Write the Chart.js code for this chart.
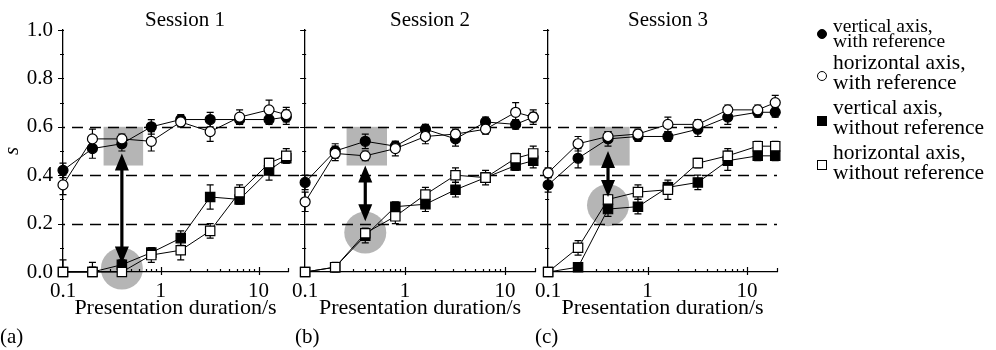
<!DOCTYPE html>
<html>
<head>
<meta charset="utf-8">
<script src="https://cdn.jsdelivr.net/npm/chart.js@4.4.0/dist/chart.umd.min.js"></script>
<style>
  body { margin: 0; width: 996px; height: 350px; background: #fff; position: relative; overflow: hidden;
         font-family: "Liberation Serif", serif; color: #000; }
  canvas { position: absolute; top: 0; }
  .title { position: absolute; width: 200px; text-align: center; font-size: 21px; line-height: 24px; top: 7px; }
  .tag { position: absolute; font-size: 21px; line-height: 25px; top: 324px; }
  .entry { position: absolute; left: 833px; font-size: 21.5px; line-height: 20px; white-space: nowrap; }
  .mk { position: absolute; width: 8px; height: 8px; border: 1.3px solid #000; left: 817px; }
  .round { border-radius: 50%; }
  .fill { background: #000; }
</style>
</head>
<body>
<canvas id="panel1" width="310" height="350" style="left:0px"></canvas>
<canvas id="panel2" width="265" height="350" style="left:285px"></canvas>
<canvas id="panel3" width="262" height="350" style="left:528px"></canvas>

<div class="title" style="left:85px">Session 1</div>
<div class="title" style="left:330px">Session 2</div>
<div class="title" style="left:568px">Session 3</div>

<div class="tag" style="left:0px">(a)</div>
<div class="tag" style="left:295px">(b)</div>
<div class="tag" style="left:535px">(c)</div>

<span class="mk round fill" style="top:29px"></span>
<div class="entry" style="top:18px;font-size:19.5px;line-height:15px">vertical axis,<br>with reference</div>
<span class="mk round" style="top:71px"></span>
<div class="entry" style="top:52px">horizontal axis,<br>with reference</div>
<span class="mk fill" style="top:116px"></span>
<div class="entry" style="top:97px">vertical axis,<br>without reference</div>
<span class="mk" style="top:160px"></span>
<div class="entry" style="top:142px">horizontal axis,<br>without reference</div>

<script>
// presentation durations (s), same for every session
const durations = [0.1, 0.2, 0.4, 0.8, 1.6, 3.2, 6.4, 12.8, 19.2];
const xTickLabels = [0.1, 1, 10];
const guideLevels = [0.2, 0.4, 0.6];

// Session 1
const s1VertRef = [0.42, 0.51, 0.53, 0.60, 0.63, 0.63, 0.63, 0.63, 0.64];
const s1HorzRef = [0.36, 0.55, 0.55, 0.54, 0.62, 0.58, 0.64, 0.67, 0.65];
const s1VertNo = [0.00, 0.00, 0.03, 0.08, 0.14, 0.31, 0.30, 0.42, 0.47];
const s1HorzNo = [0.00, 0.00, 0.00, 0.07, 0.09, 0.17, 0.33, 0.45, 0.48];
const s1VertRefErr = [0.03, 0.04, 0.03, 0.03, 0.02, 0.03, 0.02, 0.02, 0.03];
const s1HorzRefErr = [0.04, 0.04, 0.02, 0.04, 0.02, 0.04, 0.03, 0.04, 0.03];
const s1VertNoErr = [0.05, 0.04, 0.02, 0.02, 0.03, 0.05, 0.02, 0.04, 0.02];
const s1HorzNoErr = [0.00, 0.02, 0.00, 0.03, 0.04, 0.03, 0.03, 0.02, 0.03];

// Session 2
const s2VertRef = [0.37, 0.50, 0.54, 0.52, 0.59, 0.55, 0.62, 0.61, 0.64];
const s2HorzRef = [0.29, 0.49, 0.48, 0.51, 0.56, 0.57, 0.59, 0.66, 0.64];
const s2VertNo = [0.00, 0.02, 0.15, 0.27, 0.28, 0.34, 0.39, 0.44, 0.46];
const s2HorzNo = [0.00, 0.02, 0.16, 0.23, 0.32, 0.40, 0.39, 0.47, 0.49];
const s2VertRefErr = [0.03, 0.03, 0.03, 0.02, 0.02, 0.03, 0.02, 0.02, 0.02];
const s2HorzRefErr = [0.04, 0.03, 0.02, 0.03, 0.03, 0.02, 0.02, 0.04, 0.03];
const s2VertNoErr = [0.01, 0.01, 0.03, 0.02, 0.03, 0.03, 0.02, 0.02, 0.03];
const s2HorzNoErr = [0.01, 0.02, 0.02, 0.03, 0.03, 0.03, 0.03, 0.02, 0.03];

// Session 3
const s3VertRef = [0.36, 0.47, 0.55, 0.56, 0.56, 0.59, 0.64, 0.66, 0.66];
const s3HorzRef = [0.41, 0.53, 0.56, 0.57, 0.61, 0.61, 0.67, 0.67, 0.70];
const s3VertNo = [0.00, 0.02, 0.26, 0.27, 0.35, 0.37, 0.46, 0.48, 0.48];
const s3HorzNo = [0.00, 0.10, 0.30, 0.33, 0.34, 0.45, 0.48, 0.52, 0.52];
const s3VertRefErr = [0.03, 0.04, 0.03, 0.02, 0.02, 0.03, 0.03, 0.02, 0.02];
const s3HorzRefErr = [0.02, 0.03, 0.02, 0.02, 0.03, 0.02, 0.02, 0.02, 0.03];
const s3VertNoErr = [0.01, 0.01, 0.03, 0.03, 0.02, 0.03, 0.04, 0.02, 0.02];
const s3HorzNoErr = [0.01, 0.03, 0.02, 0.03, 0.04, 0.02, 0.03, 0.02, 0.02];

// grey highlight at 0.4 s, arrow between the two conditions
const highlightX = 0.4;
const highlightBoxX = [0.26, 0.66];
const highlightBoxY = [0.44, 0.60];
const circleY = [0.014, 0.163, 0.276];
const arrowTop = [0.49, 0.44, 0.50];
const arrowBottom = [0.035, 0.21, 0.31];

Chart.defaults.font.family = '"Liberation Serif", "Times New Roman", serif';
Chart.defaults.color = '#000';

function toPoints(values) {
    return durations.map((d, i) => ({ x: d, y: values[i] }));
}

// grey box + circle and dashed guide lines, behind everything
const backdrop = {
    id: 'backdrop',
    beforeDraw(chart, args, opts) {
        const { ctx, chartArea } = chart;
        const x = chart.scales.x, y = chart.scales.y;
        ctx.save();
        ctx.fillStyle = '#b5b5b5';
        const bx0 = x.getPixelForValue(highlightBoxX[0]);
        const bx1 = x.getPixelForValue(highlightBoxX[1]);
        const by0 = y.getPixelForValue(highlightBoxY[1]);
        const by1 = y.getPixelForValue(highlightBoxY[0]);
        ctx.fillRect(bx0, by0, bx1 - bx0, by1 - by0);
        ctx.beginPath();
        ctx.arc(x.getPixelForValue(highlightX), y.getPixelForValue(circleY[opts.session]), 21, 0, Math.PI * 2);
        ctx.fill();

        ctx.strokeStyle = '#000';
        ctx.lineWidth = 1.4;
        ctx.setLineDash([11, 7]);
        ctx.lineDashOffset = (opts.canvasLeft + chartArea.left) % 18;
        guideLevels.forEach(v => {
            const py = Math.round(y.getPixelForValue(v)) + 0.5;
            ctx.beginPath();
            ctx.moveTo(chartArea.left, py);
            ctx.lineTo(chartArea.right + opts.extend, py);
            ctx.stroke();
        });
        ctx.restore();
    }
};

// small tick marks and error bars
const marks = {
    id: 'marks',
    beforeDatasetsDraw(chart) {
        const { ctx, chartArea } = chart;
        const x = chart.scales.x, y = chart.scales.y;
        ctx.save();
        ctx.strokeStyle = '#000';
        ctx.lineWidth = 1.2;
        ctx.beginPath();
        // log ticks on x axis
        xTickLabels.forEach(decade => {
            for (let m = 1; m <= 9; m++) {
                const v = decade * m;
                if (v > x.max + 1e-9) break;
                const px = Math.round(x.getPixelForValue(v)) + 0.5;
                const major = m === 1;
                ctx.moveTo(px, chartArea.bottom + (major ? 3 : 0));
                ctx.lineTo(px, chartArea.bottom - (major ? 5 : 3));
            }
        });
        const endX = Math.round(x.getPixelForValue(x.max)) + 0.5;
        ctx.moveTo(endX, chartArea.bottom);
        ctx.lineTo(endX, chartArea.bottom - 4);
        // y ticks every 0.1
        for (let k = 0; k <= 10; k++) {
            const py = Math.round(y.getPixelForValue(k / 10)) + 0.5;
            const major = k % 2 === 0;
            ctx.moveTo(chartArea.left - (major ? 5 : 3), py);
            ctx.lineTo(chartArea.left + 1, py);
        }
        ctx.stroke();

        // error bars
        ctx.lineWidth = 1.2;
        chart.data.datasets.forEach(ds => {
            ctx.beginPath();
            ds.data.forEach((p, i) => {
                const e = ds.errors[i];
                if (!e) return;
                const px = x.getPixelForValue(p.x);
                const top = y.getPixelForValue(p.y + e);
                const bot = y.getPixelForValue(Math.max(p.y - e, 0));
                ctx.moveTo(px, top);
                ctx.lineTo(px, bot);
                ctx.moveTo(px - 3.5, top);
                ctx.lineTo(px + 3.5, top);
                ctx.moveTo(px - 3.5, bot);
                ctx.lineTo(px + 3.5, bot);
            });
            ctx.stroke();
        });
        ctx.restore();
    },
    // double headed arrow on top
    afterDatasetsDraw(chart, args, opts) {
        const { ctx } = chart;
        const x = chart.scales.x, y = chart.scales.y;
        const px = x.getPixelForValue(highlightX);
        const yTop = y.getPixelForValue(arrowTop[opts.session]);
        const yBot = y.getPixelForValue(arrowBottom[opts.session]);
        const head = 17, half = 7;
        ctx.save();
        ctx.fillStyle = '#000';
        ctx.strokeStyle = '#000';
        ctx.lineWidth = 3.2;
        ctx.beginPath();
        ctx.moveTo(px, yTop + head - 1);
        ctx.lineTo(px, yBot - head + 1);
        ctx.stroke();
        ctx.beginPath();
        ctx.moveTo(px, yTop);
        ctx.lineTo(px - half, yTop + head);
        ctx.lineTo(px + half, yTop + head);
        ctx.closePath();
        ctx.moveTo(px, yBot);
        ctx.lineTo(px - half, yBot - head);
        ctx.lineTo(px + half, yBot - head);
        ctx.closePath();
        ctx.fill();
        ctx.restore();
    }
};

function makePanel(canvasId, session, canvasLeft, yAxisWidth, padRight, extend, series, errors) {
    // order: lower is drawn on top, so the open markers sit above the filled ones
    const styles = [
        { label: 'vertical axis, with reference', pointStyle: 'circle', pointRadius: 5, fill: '#000', order: 3 },
        { label: 'horizontal axis, with reference', pointStyle: 'circle', pointRadius: 5, fill: '#fff', order: 1 },
        { label: 'vertical axis, without reference', pointStyle: 'rect', pointRadius: 6.6, fill: '#000', order: 2 },
        { label: 'horizontal axis, without reference', pointStyle: 'rect', pointRadius: 6.6, fill: '#fff', order: 0 }
    ];
    const datasets = styles.map((s, i) => ({
        label: s.label,
        data: toPoints(series[i]),
        errors: errors[i],
        order: s.order,
        borderColor: '#000',
        borderWidth: 1,
        pointStyle: s.pointStyle,
        pointRadius: s.pointRadius,
        pointBackgroundColor: s.fill,
        pointBorderColor: '#000',
        pointBorderWidth: 1.2,
        tension: 0,
        clip: false
    }));

    return new Chart(document.getElementById(canvasId).getContext('2d'), {
        type: 'line',
        data: { datasets },
        options: {
            responsive: false,
            animation: false,
            devicePixelRatio: 1,
            layout: { padding: { top: 30, left: 0, right: padRight, bottom: 0 } },
            plugins: {
                legend: { display: false },
                tooltip: { enabled: false },
                backdrop: { session, canvasLeft, extend },
                marks: { session }
            },
            scales: {
                x: {
                    type: 'logarithmic',
                    min: 0.1,
                    max: 20,
                    grid: { display: false, drawTicks: false },
                    border: { display: true, color: '#000', width: 1.3 },
                    ticks: {
                        autoSkip: false,
                        maxRotation: 0,
                        padding: 7,
                        font: { size: 21 },
                        callback: v => xTickLabels.some(t => Math.abs(t - v) < 1e-9) ? String(v) : ''
                    },
                    title: {
                        display: true,
                        text: 'Presentation duration/s',
                        font: { size: 22 },
                        padding: { top: 0, bottom: 29 }
                    },
                    afterFit: scale => { scale.height = 78; }
                },
                y: {
                    min: 0,
                    max: 1,
                    grid: { display: false, drawTicks: false },
                    border: { display: true, color: '#000', width: 1.3 },
                    ticks: {
                        display: session === 0,
                        stepSize: 0.2,
                        padding: 10,
                        font: { size: 21 },
                        callback: v => v.toFixed(1)
                    },
                    title: {
                        display: session === 0,
                        text: 's',
                        font: { size: 21, style: 'italic' },
                        padding: { top: 0, bottom: 0 }
                    },
                    afterFit: scale => { scale.width = yAxisWidth; }
                }
            }
        },
        plugins: [backdrop, marks]
    });
}

makePanel('panel1', 0, 0, 63, 22, 17,
    [s1VertRef, s1HorzRef, s1VertNo, s1HorzNo],
    [s1VertRefErr, s1HorzRefErr, s1VertNoErr, s1HorzNoErr]);
makePanel('panel2', 1, 285, 20, 15, 13,
    [s2VertRef, s2HorzRef, s2VertNo, s2HorzNo],
    [s2VertRefErr, s2HorzRefErr, s2VertNoErr, s2HorzNoErr]);
makePanel('panel3', 2, 528, 20, 13, 0,
    [s3VertRef, s3HorzRef, s3VertNo, s3HorzNo],
    [s3VertRefErr, s3HorzRefErr, s3VertNoErr, s3HorzNoErr]);
</script>
</body>
</html>
